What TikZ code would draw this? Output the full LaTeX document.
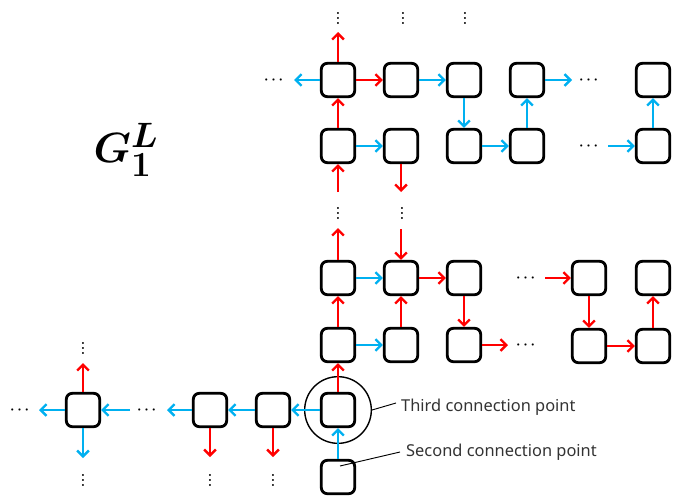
\documentclass[tikz,border=0pt]{standalone}
\usepackage{amsmath}
\usepackage{fontspec}
\setsansfont{Noto Sans}
\usepackage{tikz}
\usetikzlibrary{arrows.meta,positioning}
\definecolor{cblue}{HTML}{00B0F0}
\definecolor{cred}{HTML}{FF0000}
\definecolor{ctext}{HTML}{333333}

\begin{document}
\begin{tikzpicture}[x=0.03cm,y=-0.03cm]
      \tikzstyle{every node}=[inner sep=0pt]
      \tikzstyle{blk}=[draw, line width=2.4pt, rounded corners=5pt, minimum size=1.0cm]
      \tikzstyle{redarr}=[->, >={Straight Barb[length=5pt,width=10pt]}, draw=cred, line width=2pt]
      \tikzstyle{bluarr}=[->, >={Straight Barb[length=5pt,width=10pt]}, draw=cblue, line width=2pt]
      \tikzstyle{dots}=[font=\large\bfseries\boldmath]
      \tikzstyle{lbl}=[font=\sffamily\fontsize{14}{16}\selectfont, text=ctext, anchor=west]
      \useasboundingbox (0,0) rectangle (673,499);

      \node[font=\Huge\boldmath, scale=1.45, transform shape] (G) at (126,150) {$G_1^L$};

      % upper block
      \node[blk] (u1) at (338,80) {};
      \node[blk] (u2) at (401,80) {};
      \node[blk] (u3) at (464,80) {};
      \node[blk] (u4) at (527,80) {};
      \node[blk] (u5) at (653,80) {};
      \node[blk] (v1) at (338,146) {};
      \node[blk] (v2) at (401,146) {};
      \node[blk] (v3) at (464,146) {};
      \node[blk] (v4) at (527,146) {};
      \node[blk] (v5) at (653,146) {};

      \node[dots] (du1) at (338,15) {$\vdots$};
      \node[dots] (du2) at (403,15) {$\vdots$};
      \node[dots] (du3) at (465,15) {$\vdots$};
      \node[dots] (hu1) at (275,80) {$\cdots$};
      \node[dots] (hu4) at (590,80) {$\cdots$};
      \node[dots] (hv4) at (590,146) {$\cdots$};
      \node[dots] (dv1) at (338,210) {$\vdots$};
      \node[dots] (dv2) at (402,210) {$\vdots$};

      \coordinate (u1n) at (338,32);
      \coordinate (u1w) at (294,80);
      \coordinate (u4e) at (572,80);
      \coordinate (v5w) at (608,146);
      \coordinate (v1s) at (338,192);
      \coordinate (v2s) at (401,192);

      \draw[redarr] (u1) -- (u1n);
      \draw[bluarr] (u1) -- (u1w);
      \draw[redarr] (u1) -- (u2);
      \draw[bluarr] (u2) -- (u3);
      \draw[bluarr] (u3) -- (v3);
      \draw[bluarr] (u4) -- (u4e);
      \draw[redarr] (v1) -- (u1);
      \draw[bluarr] (v1) -- (v2);
      \draw[redarr] (v1s) -- (v1);
      \draw[redarr] (v2) -- (v2s);
      \draw[bluarr] (v3) -- (v4);
      \draw[bluarr] (v4) -- (u4);
      \draw[bluarr] (v5w) -- (v5);
      \draw[bluarr] (v5) -- (u5);

      % middle block
      \node[blk] (m1) at (338,278) {};
      \node[blk] (m2) at (401,278) {};
      \node[blk] (m3) at (464,278) {};
      \node[blk] (m4) at (589,278) {};
      \node[blk] (m5) at (653,278) {};
      \node[blk] (n1) at (338,345) {};
      \node[blk] (n2) at (401,345) {};
      \node[blk] (n3) at (464,345) {};
      \node[blk] (n4) at (589,346) {};
      \node[blk] (n5) at (653,346) {};

      \node[dots] (hm3) at (527,278) {$\cdots$};
      \node[dots] (hn3) at (527,345) {$\cdots$};

      \coordinate (m1n) at (338,228);
      \coordinate (m2n) at (401,229);
      \coordinate (m4w) at (545,278);
      \coordinate (n3e) at (508,345);

      \draw[redarr] (m1) -- (m1n);
      \draw[redarr] (m2n) -- (m2);
      \draw[bluarr] (m1) -- (m2);
      \draw[redarr] (m2) -- (m3);
      \draw[redarr] (m3) -- (n3);
      \draw[redarr] (m4w) -- (m4);
      \draw[redarr] (m4) -- (n4);
      \draw[redarr] (n4) -- (n5);
      \draw[redarr] (n5) -- (m5);
      \draw[redarr] (n1) -- (m1);
      \draw[redarr] (n2) -- (m2);
      \draw[bluarr] (n1) -- (n2);
      \draw[redarr] (n3) -- (n3e);

      % lower row
      \node[blk] (p0) at (83,410) {};
      \node[blk] (p1) at (210,410) {};
      \node[blk] (p2) at (273,410) {};
      \node[blk] (p3) at (338,410) {};
      \node[blk] (q) at (338,477) {};
      \node[draw, circle, line width=1.2pt, minimum size=2.0cm] (c3) at (p3) {};

      \node[dots] (dp0n) at (83,345) {$\vdots$};
      \node[dots] (dp0s) at (83,477) {$\vdots$};
      \node[dots] (hp0w) at (21,410) {$\cdots$};
      \node[dots] (hp0e) at (148,410) {$\cdots$};
      \node[dots] (dp1) at (210,477) {$\vdots$};
      \node[dots] (dp2) at (273,477) {$\vdots$};

      \coordinate (p0n) at (83,363);
      \coordinate (p0w) at (39,410);
      \coordinate (p0e) at (130,410);
      \coordinate (p0s) at (83,458);
      \coordinate (p1w) at (167,410);
      \coordinate (p1s) at (210,457);
      \coordinate (p2s) at (273,457);

      \draw[redarr] (p0) -- (p0n);
      \draw[bluarr] (p0) -- (p0w);
      \draw[bluarr] (p0e) -- (p0);
      \draw[bluarr] (p0) -- (p0s);
      \draw[bluarr] (p1) -- (p1w);
      \draw[redarr] (p1) -- (p1s);
      \draw[bluarr] (p2) -- (p1);
      \draw[redarr] (p2) -- (p2s);
      \draw[bluarr] (p3) -- (p2);
      \draw[redarr] (p3) -- (n1);
      \draw[bluarr] (q) -- (p3);

      % labels
      \node[lbl] (third) at (401,407) {Third connection point};
      \node[lbl] (second) at (406,452) {Second connection point};
      \coordinate (k3) at (396,403);
      \coordinate (k2) at (400,452);
      \coordinate (qin) at (340,466);
      \draw[line width=0.8pt] (c3.east) -- (k3);
      \draw[line width=0.8pt] (qin) -- (k2);
\end{tikzpicture}
\end{document}
